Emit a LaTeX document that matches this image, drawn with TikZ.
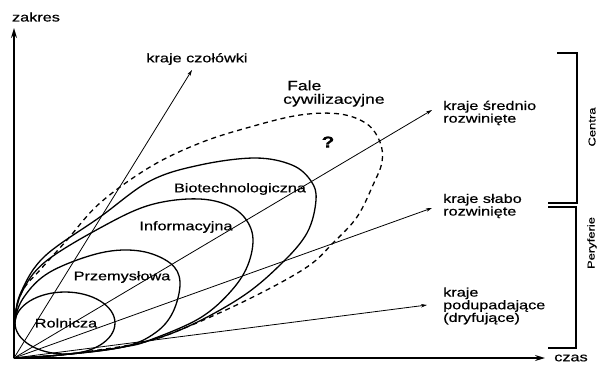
\documentclass[tikz,border=0pt]{standalone}
\usepackage{fontspec}
\setmainfont{Liberation Sans}[FakeStretch=1.3, FakeBold=0.5]
\usetikzlibrary{arrows.meta}
\tikzset{
  lbl/.style={font=\fontsize{12.5bp}{11.5bp}\selectfont, inner sep=0pt},
  wave/.style={line width=1.3bp},
  wavedash/.style={line width=1.3bp, dash pattern=on 5bp off 4bp},
  ray/.style={line width=0.8bp, -{Stealth[length=6bp,width=3.5bp]}},
  axis/.style={line width=1.5bp, -{Stealth[length=10bp,width=6bp]}},
  brack/.style={line width=1.1bp},
  side/.style={font=\fontsize{10bp}{11bp}\selectfont, inner sep=0pt, rotate=90}
}
\begin{document}
\begin{tikzpicture}[x=1bp,y=-1bp]
\useasboundingbox (0,0) rectangle (597,367);
\coordinate (O) at (14,358);
\coordinate (ytip) at (14,28);
\coordinate (xtip) at (545,358);
% axes
\draw[axis] (O) -- (ytip);
\draw[axis] (O) -- (xtip);
\node[lbl] (zakres) at (36,17) {zakres};
\node[lbl] (czas) at (571,358) {czas};
% waves
\draw[wave] (65,323) ellipse [x radius=50, y radius=31];
\draw[wave] plot[smooth, tension=0.6] coordinates {(14,358) (15,322) (24,297) (50,272) (100,253) (140,251) (170,263) (180,282) (173,312) (155,333) (123,347) (60,355) (14,358)};
\draw[wave] plot[smooth, tension=0.6] coordinates {(14,358) (15,320) (22,292) (45,262) (100,228) (150,205) (200,199) (235,209) (252,232) (249,262) (232,290) (200,318) (150,340) (123,347) (60,355) (14,358)};
\draw[wave] plot[smooth, tension=0.6] coordinates {(14,358) (15,318) (22,290) (45,256) (100,217) (150,181) (200,165) (255,158) (292,165) (311,181) (316,200) (307,233) (280,265) (240,298) (180,330) (123,347) (60,355) (14,358)};
\draw[wavedash] plot[smooth, tension=0.6] coordinates {(14,358) (15,316) (23,290) (40,270) (67,240) (100,203) (150,167) (200,143) (250,127) (300,115) (340,114) (367,124) (380,142) (382,162) (373,185) (357,217) (333,243) (307,267) (253,297) (187,327) (140,343) (60,355) (14,358)};
% rays
\coordinate (r1) at (192,70);
\coordinate (r2) at (432,110);
\coordinate (r3) at (432,208);
\coordinate (r4) at (427,305);
\draw[ray] (O) -- (r1);
\draw[ray] (O) -- (r2);
\draw[ray] (O) -- (r3);
\draw[ray] (O) -- (r4);
% labels
\node[lbl] (czol) at (197,59) {kraje czołówki};
\node[lbl, anchor=west, align=left] (sred) at (443,113) {kraje średnio\\rozwinięte};
\node[lbl, anchor=west, align=left] (slab) at (443,206) {kraje słabo\\rozwinięte};
\node[lbl, anchor=west, align=left] (podu) at (443,306) {kraje\\podupadające\\(dryfujące)};
\node[lbl, font=\fontsize{13.5bp}{13.5bp}\selectfont, anchor=west, align=left] (fale) at (283,93.5) {\hspace*{4bp}Fale\\cywilizacyjne};
\node[lbl, font=\fontsize{16bp}{16bp}\selectfont\bfseries] (q) at (328,142) {?};
\node[lbl] (rol) at (66,323) {Rolnicza};
\node[lbl] (prz) at (122,277) {Przemysłowa};
\node[lbl] (inf) at (186,227) {Informacyjna};
\node[lbl] (bio) at (240,189) {Biotechnologiczna};
% brackets
\draw[brack] (557,53) -- (577,53) -- (577,203) -- (548,203);
\draw[brack] (548,207) -- (576,207) -- (576,348) -- (548,348);
\node[side] (centra) at (592,127) {Centra};
\node[side] (pery) at (592,243) {Peryferie};
\end{tikzpicture}
\end{document}
